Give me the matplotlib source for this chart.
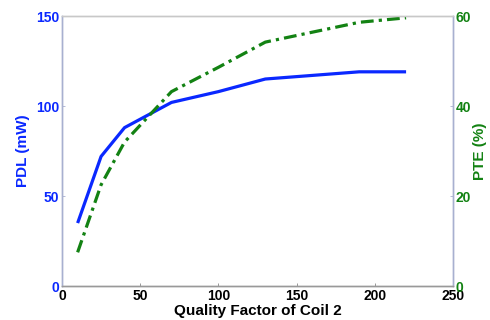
import numpy as np
import matplotlib
matplotlib.use('Agg')
import matplotlib.pyplot as plt

plt.rcParams['font.family'] = ['Liberation Sans', 'DejaVu Sans']
plt.rcParams['font.weight'] = 'bold'

q = [10, 25, 40, 70, 100, 130, 160, 190, 220]
pdl = [35, 72, 88, 102, 108, 115, 117, 119, 119]
pte = [7.5, 22.5, 32, 43.2, 48.6, 54.2, 56.4, 58.6, 59.6]

blue = '#0a28ff'
green = '#138213'
spine = '#a8b0d0'

fig = plt.figure(figsize=(4.9, 3.2), dpi=100)
ax = fig.add_axes([0.1265, 0.106, 0.798, 0.844])
ax2 = ax.twinx()

ax.plot(q, pdl, color=blue, lw=2.3, solid_capstyle='butt')
ax2.plot(q, pte, color=green, lw=2.3, linestyle=(0, (4, 1.6, 1, 1.6)))

ax.set_xlim(0, 250)
ax.set_ylim(0, 150)
ax2.set_ylim(0, 60)
ax.set_xticks([0, 50, 100, 150, 200, 250])
ax.set_yticks([0, 50, 100, 150])
ax2.set_yticks([0, 20, 40, 60])

ax.set_xlabel('Quality Factor of Coil 2', fontsize=11, fontweight='bold', labelpad=1)
ax.set_ylabel('PDL (mW)', fontsize=11, fontweight='bold', color=blue, labelpad=4)
ax2.set_ylabel('PTE (%)', fontsize=11, fontweight='bold', color=green, labelpad=1)

ax.tick_params(axis='x', direction='in', length=2, width=0.6, colors='#888888', labelcolor='black', labelsize=10, pad=2)
ax.tick_params(axis='y', direction='in', length=2, width=0.6, colors=spine, labelcolor=blue, labelsize=10, pad=2)
ax2.tick_params(axis='y', direction='in', length=2, width=0.6, colors=spine, labelcolor=green, labelsize=10, pad=2)

for a in (ax, ax2):
    a.spines['top'].set_color('#c8c8c8')
    a.spines['bottom'].set_color('#999999')
    a.spines['left'].set_color(spine)
    a.spines['right'].set_color(spine)
    for s in a.spines.values():
        s.set_linewidth(1.0)

fig.savefig('out.png', dpi=100)
